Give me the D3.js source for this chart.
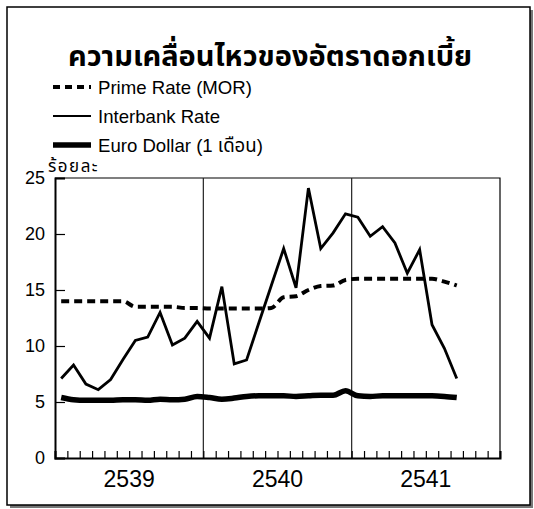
<!DOCTYPE html>
<html>
<head>
<meta charset="utf-8">
<script src="https://cdn.jsdelivr.net/npm/d3@7"></script>
<style>
  html, body { margin: 0; padding: 0; background: #fff; }
  svg { display: block; }
  text { font-family: "Liberation Sans", Arial, "Noto Sans Thai", "DejaVu Sans", sans-serif; fill: #000; }
</style>
</head>
<body>
<svg id="chart" width="534" height="509"></svg>
<script>
// ---- Data (monthly, 2539 Jan .. 2541 Sep) ----
const years = ["2539", "2540", "2541"];
const monthsPerYear = 12;
const interbank = [7.1, 8.3, 6.6, 6.1, 7.0, 8.8, 10.5, 10.8, 13.0, 10.1, 10.7, 12.2,
                   10.7, 15.3, 8.4, 8.75, 12.1, 15.4, 18.7, 15.2, 24.1, 18.7, 20.1, 21.8,
                   21.5, 19.8, 20.65, 19.2, 16.5, 18.6, 11.9, 9.8, 7.1];
const primeRate = [14.0, 14.0, 14.0, 14.0, 14.0, 14.0, 13.5, 13.5, 13.5, 13.5, 13.4, 13.4,
                   13.35, 13.35, 13.35, 13.35, 13.35, 13.4, 14.35, 14.45, 15.0, 15.35, 15.4, 15.9,
                   16.0, 16.0, 16.0, 16.0, 16.0, 16.0, 16.0, 15.75, 15.4];
const euroDollar = [5.4, 5.2, 5.15, 5.15, 5.15, 5.2, 5.2, 5.15, 5.25, 5.2, 5.25, 5.5,
                    5.4, 5.25, 5.35, 5.5, 5.55, 5.55, 5.55, 5.5, 5.55, 5.6, 5.6, 6.0,
                    5.55, 5.5, 5.55, 5.55, 5.55, 5.55, 5.55, 5.5, 5.4];
const yTicks = [0, 5, 10, 15, 20, 25];
const title = "ความเคลื่อนไหวของอัตราดอกเบี้ย";
const unitLabel = "ร้อยละ";
const legendLabels = ["Prime Rate (MOR)", "Interbank Rate", "Euro Dollar (1 เดือน)"];

// ---- Layout ----
const svg = d3.select("#chart");
const plot = { left: 55, right: 500, top: 178, bottom: 458 };
const totalMonths = years.length * monthsPerYear;

const x = d3.scaleLinear().domain([0, totalMonths]).range([plot.left, plot.right]);
const y = d3.scaleLinear().domain([0, 25]).range([plot.bottom, plot.top]);

// outer frame with shadow
svg.append("rect").attr("x", 10).attr("y", 10).attr("width", 523).attr("height", 498)
  .attr("fill", "#777");
svg.append("rect").attr("x", 7).attr("y", 7).attr("width", 523).attr("height", 498)
  .attr("fill", "#fff").attr("stroke", "#000").attr("stroke-width", 1.5);

// title
svg.append("text").attr("x", 270).attr("y", 66).attr("text-anchor", "middle")
  .attr("font-size", 29).attr("font-weight", "bold").text(title);

// legend
const legendY = [87, 116, 145];
const legendStyles = [
  { w: 4, dash: "7,5" },
  { w: 2.2, dash: null },
  { w: 5.5, dash: null }
];
legendLabels.forEach((lab, i) => {
  const l = svg.append("line").attr("x1", 53).attr("x2", 91)
    .attr("y1", legendY[i]).attr("y2", legendY[i])
    .attr("stroke", "#000").attr("stroke-width", legendStyles[i].w);
  if (legendStyles[i].dash) l.attr("stroke-dasharray", legendStyles[i].dash);
  svg.append("text").attr("x", 98).attr("y", legendY[i] + 6.5)
    .attr("font-size", 18.6).text(lab);
});

// unit label
svg.append("text").attr("x", 48).attr("y", 172).attr("font-size", 17)
  .attr("letter-spacing", 1.5).text(unitLabel);

// plot frame (top & right)
svg.append("path")
  .attr("d", `M${plot.left},${plot.top}H${plot.right}V${plot.bottom}`)
  .attr("fill", "none").attr("stroke", "#000").attr("stroke-width", 1.2);

// year separators
d3.range(1, years.length).forEach(k => {
  svg.append("line").attr("x1", x(k * monthsPerYear)).attr("x2", x(k * monthsPerYear))
    .attr("y1", plot.top).attr("y2", plot.bottom)
    .attr("stroke", "#222").attr("stroke-width", 1.2);
});

// y axis
const yAxis = d3.axisLeft(y).tickValues(yTicks).tickSize(-10).tickPadding(10).tickFormat(d3.format("d"));
const gy = svg.append("g").attr("transform", `translate(${plot.left},0)`).call(yAxis);
gy.select(".domain").attr("stroke-width", 2);
gy.selectAll(".tick line").attr("stroke-width", 1.2);
gy.selectAll(".tick text").attr("font-size", 18).attr("font-family", null);

// x axis: monthly ticks, year labels
const xAxis = d3.axisBottom(x).tickValues(d3.range(0, totalMonths + 1)).tickSize(-7).tickFormat("");
const gx = svg.append("g").attr("transform", `translate(0,${plot.bottom})`).call(xAxis);
gx.select(".domain").attr("stroke-width", 2);
gx.selectAll(".tick line").attr("stroke-width", 1.2);
svg.append("g").selectAll("text").data(years).join("text")
  .attr("x", (d, i) => x(i * monthsPerYear + monthsPerYear / 2))
  .attr("y", 487).attr("text-anchor", "middle").attr("font-size", 23).text(d => d);

// series
const xi = i => x(i + 0.5);
const lineLin = d3.line().x((d, i) => xi(i)).y(d => y(d));
const lineSmooth = d3.line().x((d, i) => xi(i)).y(d => y(d)).curve(d3.curveMonotoneX);

svg.append("path").datum(euroDollar).attr("d", lineSmooth)
  .attr("fill", "none").attr("stroke", "#000").attr("stroke-width", 5.5);
svg.append("path").datum(primeRate).attr("d", lineSmooth)
  .attr("fill", "none").attr("stroke", "#000").attr("stroke-width", 4)
  .attr("stroke-dasharray", "8,5");
svg.append("path").datum(interbank).attr("d", lineLin)
  .attr("fill", "none").attr("stroke", "#000").attr("stroke-width", 2.8)
  .attr("stroke-linejoin", "miter");
</script>
</body>
</html>
